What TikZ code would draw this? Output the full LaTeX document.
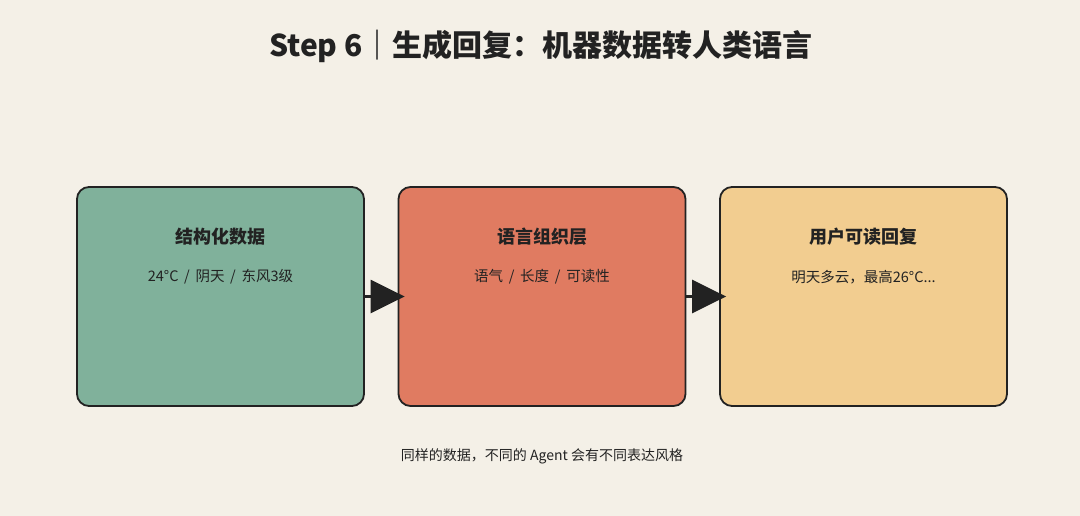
\documentclass[tikz,border=0pt]{standalone}
\usepackage{fontspec}
\setmainfont{Noto Sans CJK SC}
\usetikzlibrary{arrows.meta}

\definecolor{bgc}{HTML}{F4F0E7}
\definecolor{inkc}{HTML}{222222}
\definecolor{greenc}{HTML}{80B19B}
\definecolor{redc}{HTML}{E07B61}
\definecolor{sandc}{HTML}{F2CD90}

\begin{document}
\begin{tikzpicture}[x=1pt, y=-1pt]
\tikzset{
	box/.style={draw=inkc, line width=1.8pt, rounded corners=12pt, minimum width=287pt, minimum height=219pt, inner sep=0pt},
	head/.style={text=inkc, font=\fontsize{18}{21}\selectfont\bfseries},
	sub/.style={text=inkc, font=\fontsize{14.5}{17}\selectfont},
	link/.style={draw=inkc, line width=2.5pt, -{Triangle[length=34pt, width=33pt]}, shorten >=-7pt}
}

% background
\fill[bgc] (0,0) rectangle (1080,516);
\useasboundingbox (0,0) rectangle (1080,516);

% title
\node[text=inkc, font=\fontsize{30}{34}\selectfont\bfseries] (title) at (541,46) {Step 6｜生成回复：机器数据转人类语言};

% boxes
\node[box, fill=greenc] (data) at (220.5,296.5) {};
\node[box, fill=redc] (lang) at (542,296.5) {};
\node[box, fill=sandc] (reply) at (863.5,296.5) {};

% box texts
\node[head] (data_h) at (220.5,237) {结构化数据};
\node[sub] (data_s) at (220.5,277) {24°C \,/\, 阴天 \,/\, 东风3级};
\node[head] (lang_h) at (542,237) {语言组织层};
\node[sub] (lang_s) at (542,277) {语气 \,/\, 长度 \,/\, 可读性};
\node[head] (reply_h) at (863.5,237) {用户可读回复};
\node[sub] (reply_s) at (863.5,277) {明天多云，最高26°C...};

% arrows
\draw[link] (data) -- (lang);
\draw[link] (lang) -- (reply);

% note
\node[text=inkc, font=\fontsize{14}{17}\selectfont] (note) at (542,456) {同样的数据，不同的 Agent 会有不同表达风格};

\end{tikzpicture}
\end{document}
